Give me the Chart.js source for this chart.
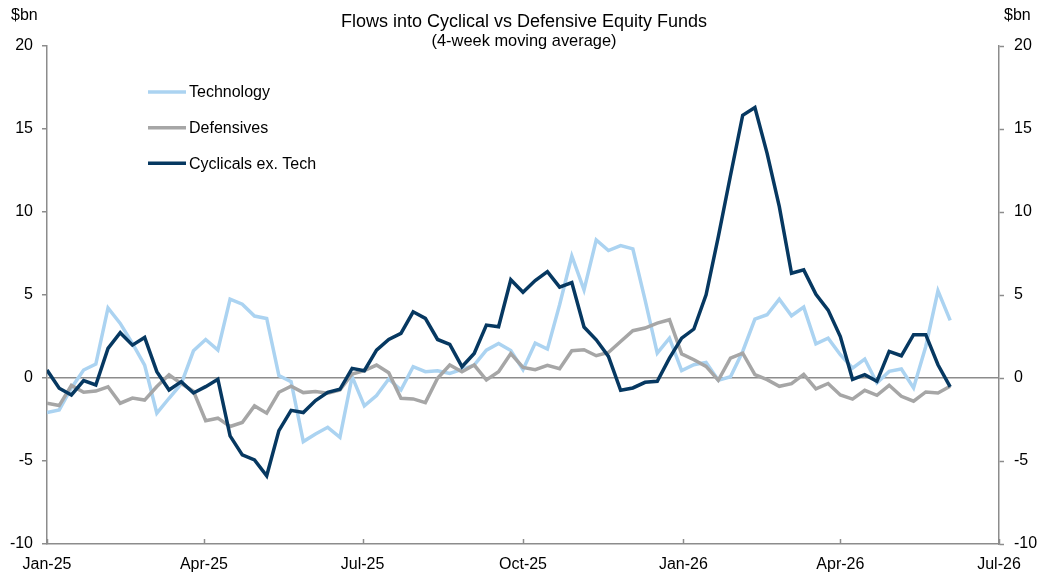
<!DOCTYPE html>
<html><head><meta charset="utf-8">
<script src="https://cdn.jsdelivr.net/npm/chart.js@4.4.0/dist/chart.umd.min.js"></script>
<style>html,body{margin:0;padding:0;background:#fff}#wrap{width:1052px;height:577px}</style>
</head><body><div id="wrap"><canvas id="c" width="1052" height="577"></canvas></div>
<script>
// ---- data ----
const startDate = '2025-01-01';
const weekCount = 75;
const tickDates = ['2025-01-01','2025-04-01','2025-07-01','2025-10-01','2026-01-01','2026-04-01','2026-07-01'];
const tickLabels = ['Jan-25','Apr-25','Jul-25','Oct-25','Jan-26','Apr-26','Jul-26'];
const seriesNames = ['Technology','Defensives','Cyclicals ex. Tech'];
const technology = [-2.08,-1.92,-0.6,0.48,0.84,4.22,3.29,2.08,0.78,-2.12,
  -1.22,-0.36,1.64,2.32,1.68,4.75,4.45,3.73,3.59,0.14,
  -0.22,-3.83,-3.37,-2.97,-3.57,0.08,-1.68,-1.06,-0.06,-0.72,
  0.68,0.38,0.44,0.28,0.52,0.78,1.68,2.08,1.65,0.5,
  2.1,1.74,4.41,7.35,5.31,8.32,7.68,7.98,7.78,4.71,
  1.5,2.4,0.45,0.8,0.94,-0.14,0.08,1.6,3.55,3.81,
  4.75,3.75,4.27,2.06,2.4,1.4,0.6,1.14,-0.3,0.4,
  0.54,-0.6,1.9,5.25,3.47];
const defensives = [-1.52,-1.66,-0.45,-0.86,-0.79,-0.53,-1.52,-1.21,-1.33,-0.51,
  0.19,-0.34,-0.8,-2.57,-2.42,-2.92,-2.68,-1.68,-2.12,-0.86,
  -0.5,-0.88,-0.82,-0.92,-0.72,0.24,0.44,0.78,0.32,-1.22,
  -1.26,-1.48,-0.02,0.78,0.38,0.78,-0.12,0.38,1.47,0.64,
  0.5,0.76,0.56,1.64,1.7,1.34,1.54,2.2,2.85,3.01,
  3.31,3.51,1.45,1.1,0.7,-0.14,1.2,1.5,0.2,-0.1,
  -0.5,-0.34,0.22,-0.65,-0.33,-1.02,-1.27,-0.74,-1.04,-0.44,
  -1.1,-1.4,-0.84,-0.9,-0.5];
const cyclicals = [0.48,-0.62,-1.02,-0.16,-0.42,1.78,2.73,1.98,2.44,0.38,
  -0.72,-0.22,-0.9,-0.52,-0.07,-3.49,-4.63,-4.93,-5.89,-3.17,
  -1.95,-2.08,-1.36,-0.86,-0.68,0.58,0.44,1.68,2.32,2.69,
  3.99,3.59,2.32,2.02,0.68,1.48,3.19,3.09,5.92,5.17,
  5.87,6.41,5.47,5.75,3.07,2.3,1.3,-0.74,-0.6,-0.26,
  -0.2,1.2,2.4,2.95,5.01,8.5,12.2,15.83,16.29,13.53,
  10.32,6.31,6.51,5.04,4.09,2.5,-0.08,0.2,-0.2,1.6,
  1.34,2.61,2.61,0.8,-0.54];
const yMin = -10, yMax = 20, yStep = 5;

// ---- helpers ----
const DAY = 86400000;
const dayOf = d => Math.round((Date.parse(d) - Date.parse(startDate)) / DAY);
const weekDays = Array.from({length: weekCount}, (_, i) => i * 7);
const pts = arr => arr.map((v, i) => ({x: weekDays[i], y: v}));
const tickDays = tickDates.map(dayOf);

const FONT = "'Liberation Sans', Arial, sans-serif";
const AXIS = '#8c8c8c';
const colors = ['#abd3f1', '#a6a6a6', '#063861'];

const overlay = {
  id: 'overlay',
  afterDraw(chart) {
    const ctx = chart.ctx, ca = chart.chartArea, xs = chart.scales.x;
    ctx.save();
    // inward x ticks
    ctx.strokeStyle = AXIS; ctx.lineWidth = 1.5;
    tickDays.forEach(d => {
      const px = Math.round(xs.getPixelForValue(d)) + 0.5;
      ctx.beginPath(); ctx.moveTo(px, ca.bottom); ctx.lineTo(px, ca.bottom - 5); ctx.stroke();
    });
    // title
    ctx.fillStyle = '#000';
    ctx.textAlign = 'center'; ctx.textBaseline = 'alphabetic';
    ctx.font = '18px ' + FONT;
    ctx.fillText('Flows into Cyclical vs Defensive Equity Funds', 524, 27);
    ctx.font = '16.4px ' + FONT;
    ctx.fillText('(4-week moving average)', 524, 46);
    // unit labels
    ctx.font = '16px ' + FONT;
    ctx.textAlign = 'left';
    ctx.fillText('$bn', 11, 20);
    ctx.fillText('$bn', 1004, 20);
    // legend
    const rows = [92, 127.7, 163.3];
    chart.data.datasets.forEach((ds, i) => {
      ctx.strokeStyle = ds.borderColor; ctx.lineWidth = 3.5; ctx.lineCap = 'butt';
      ctx.beginPath(); ctx.moveTo(148, rows[i]); ctx.lineTo(186, rows[i]); ctx.stroke();
      ctx.fillStyle = '#000'; ctx.textBaseline = 'middle'; ctx.textAlign = 'left';
      ctx.font = '16px ' + FONT;
      ctx.fillText(ds.label, 189, rows[i] + 1);
    });
    ctx.restore();
  }
};

const yAxisCommon = {
  type: 'linear', min: yMin, max: yMax,
  ticks: {stepSize: yStep, color: '#000', font: {family: FONT, size: 16}},
  border: {display: true, color: AXIS, width: 1.5}
};

new Chart(document.getElementById('c'), {
  type: 'line',
  data: {
    datasets: [
      {label: seriesNames[0], data: pts(technology), borderColor: colors[0], order: 3},
      {label: seriesNames[1], data: pts(defensives), borderColor: colors[1], order: 2},
      {label: seriesNames[2], data: pts(cyclicals), borderColor: colors[2], order: 1}
    ].map(d => Object.assign(d, {borderWidth: 3.5, pointRadius: 0, tension: 0, fill: false,
      borderJoinStyle: 'miter', borderCapStyle: 'butt', yAxisID: 'y'}))
  },
  options: {
    responsive: false, animation: false, devicePixelRatio: 1,
    layout: {padding: {top: 46, left: 0, right: 0, bottom: 0}},
    plugins: {legend: {display: false}, tooltip: {enabled: false}, title: {display: false}},
    scales: {
      x: {
        type: 'linear', min: tickDays[0], max: tickDays[tickDays.length - 1],
        afterBuildTicks: s => { s.ticks = tickDays.map(v => ({value: v})); },
        afterFit: s => { s.height = 33; },
        ticks: {autoSkip: false, maxRotation: 0, padding: 11, color: '#000',
          font: {family: FONT, size: 16},
          callback: (v, i) => tickLabels[i]},
        grid: {display: true, drawOnChartArea: false, drawTicks: false},
        border: {display: true, color: AXIS, width: 1.5}
      },
      y: Object.assign({}, yAxisCommon, {
        position: 'left',
        afterFit: s => { s.width = 47; },
        ticks: Object.assign({}, yAxisCommon.ticks, {padding: 9}),
        grid: {drawOnChartArea: true, tickLength: 5, tickColor: AXIS, tickWidth: 1.5,
          lineWidth: 1.5, color: c => (c.tick && c.tick.value === 0) ? AXIS : 'rgba(0,0,0,0)'}
      }),
      y2: Object.assign({}, yAxisCommon, {
        position: 'right',
        afterFit: s => { s.width = 53; },
        ticks: Object.assign({}, yAxisCommon.ticks, {padding: 10}),
        grid: {drawOnChartArea: false, tickLength: 5, tickColor: AXIS, tickWidth: 1.5}
      })
    }
  },
  plugins: [overlay]
});
</script>
</body></html>
